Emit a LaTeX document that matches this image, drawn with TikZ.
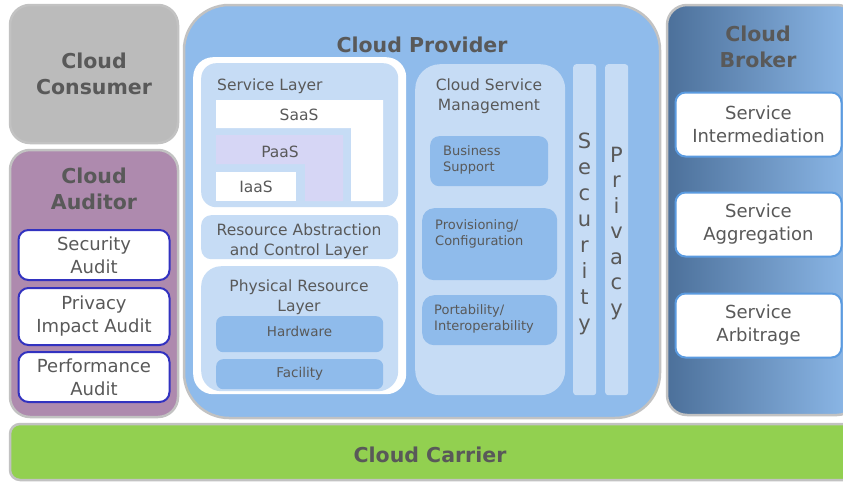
\documentclass[tikz,border=0pt]{standalone}
\usepackage{fontspec}
\setmainfont{DejaVu Sans}
\usetikzlibrary{positioning}
\definecolor{txtgray}{HTML}{595959}
\definecolor{edgegray}{HTML}{C2C2C2}
\definecolor{consumerfill}{HTML}{BBBBBB}
\definecolor{auditorfill}{HTML}{AE8AAE}
\definecolor{providerfill}{HTML}{8FBBEB}
\definecolor{layerfill}{HTML}{C6DCF5}
\definecolor{paasfill}{HTML}{D6D6F5}
\definecolor{carrierfill}{HTML}{92D050}
\definecolor{brokerdark}{HTML}{4C709A}
\definecolor{brokerlight}{HTML}{8EBAEA}
\definecolor{auditedge}{HTML}{3232C0}
\definecolor{brokeredge}{HTML}{5B9BE0}

\begin{document}
\begin{tikzpicture}[x=1pt, y=-1pt, text=txtgray,
    actor/.style = {draw=edgegray, line width=2.5pt, rounded corners=20pt, anchor=north west, inner sep=0pt, outer sep=0pt},
    roletitle/.style = {font=\bfseries\fontsize{20.5}{26}\selectfont, align=center, inner sep=0pt},
    layerbox/.style = {fill=layerfill, rounded corners=15pt, anchor=north west, inner sep=0pt},
    comp/.style = {fill=providerfill, rounded corners=7pt, anchor=north west, inner sep=0pt},
    task/.style = {fill=white, line width=2pt, rounded corners=10pt, inner sep=0pt, outer sep=0pt, align=center, font=\fontsize{18}{23}\selectfont},
    txt/.style = {font=\fontsize{15.5}{19.5}\selectfont, align=center, inner sep=0pt},
    smalltxt/.style = {font=\fontsize{13}{16.5}\selectfont, align=left, inner sep=0pt},
    vert/.style = {font=\fontsize{21}{26}\selectfont, align=center, inner sep=0pt},
    node distance=7pt]
\useasboundingbox (0,0) rectangle (843,482);

% consumer
\node[actor, fill=consumerfill, minimum width=168pt, minimum height=138pt, roletitle] (consumer) at (10,5) {Cloud\\Consumer};

% auditor
\node[actor, fill=auditorfill, minimum width=168pt, minimum height=267pt] (auditor) at (10,150) {};
\node[roletitle] (auditorname) at (94,189) {Cloud\\Auditor};
\node[task, draw=auditedge, minimum width=151pt, minimum height=50pt] (secaudit) at (94,255) {Security\\Audit};
\node[task, draw=auditedge, minimum width=151pt, minimum height=57pt, below=8pt of secaudit] (privaudit) {Privacy\\Impact Audit};
\node[task, draw=auditedge, minimum width=151pt, minimum height=50pt, below=7pt of privaudit] (perfaudit) {Performance\\Audit};

% provider
\node[actor, fill=providerfill, rounded corners=45pt, minimum width=476pt, minimum height=413pt] (provider) at (184,5) {};
\node[roletitle] (providername) at (422,45) {Cloud Provider};
\node[fill=white, rounded corners=20pt, anchor=north west, inner sep=0pt, minimum width=213pt, minimum height=337pt] (stack) at (193,57) {};

\node[layerbox, minimum width=197pt, minimum height=144pt] (servicelayer) at (201,63) {};
\node[txt, anchor=west] (servicename) at (217,86) {Service Layer};
\fill[white] (216,100) -| (383,201) -- (351,201) |- (216,128) -- cycle;
\fill[paasfill] (216,135) -| (343,201) -- (305,201) |- (216,164) -- cycle;
\fill[white] (216,172) rectangle (296,201);
\node[txt] (saas) at (299,115) {SaaS};
\node[txt] (paas) at (280,152) {PaaS};
\node[txt] (iaas) at (256,187) {IaaS};

\node[layerbox, rounded corners=10pt, minimum width=197pt, minimum height=44pt] (abstraction) at (201,215) {};
\node[txt] (abstractionname) at (299,241) {Resource Abstraction\\and Control Layer};

\node[layerbox, rounded corners=20pt, minimum width=197pt, minimum height=125pt] (physical) at (201,266) {};
\node[txt] (physicalname) at (299,297) {Physical Resource\\Layer};
\node[comp, minimum width=167pt, minimum height=36pt] (hardware) at (216,316) {};
\node[smalltxt, font=\fontsize{13.5}{16}\selectfont] (hardwaretxt) at (299.5,331) {Hardware};
\node[comp, minimum width=167pt, minimum height=30pt, font=\fontsize{13.5}{16}\selectfont] (facility) at (216,359) {Facility};

\node[layerbox, rounded corners=25pt, minimum width=150pt, minimum height=331pt] (management) at (415,64) {};
\node[txt] (managementname) at (489,96) {Cloud Service\\Management};
\node[comp, rounded corners=9pt, minimum width=118pt, minimum height=50pt] (business) at (430,136) {};
\node[smalltxt, anchor=west] (businesstxt) at (443,160) {Business\\Support};
\node[comp, rounded corners=12pt, minimum width=135pt, minimum height=72pt] (provisioning) at (422,208) {};
\node[smalltxt, anchor=west] (provisioningtxt) at (435,234) {Provisioning/\\Configuration};
\node[comp, rounded corners=12pt, minimum width=135pt, minimum height=50pt] (portability) at (422,295) {};
\node[smalltxt, anchor=west] (portabilitytxt) at (434,319) {Portability/\\Interoperability};

\node[layerbox, rounded corners=3pt, minimum width=23pt, minimum height=331pt] (security) at (573,64) {};
\node[vert] (securitytxt) at (584.5,233.5) {S\\e\\c\\u\\r\\i\\t\\y};
\node[layerbox, rounded corners=3pt, minimum width=23pt, minimum height=331pt] (privacy) at (605,64) {};
\node[vert, font=\fontsize{21}{25.5}\selectfont] (privacytxt) at (616.5,233.5) {P\\r\\i\\v\\a\\c\\y};

% broker
\node[actor, left color=brokerdark, right color=brokerlight, minimum width=190pt, minimum height=410pt] (broker) at (667,5) {};
\node[roletitle] (brokername) at (758,47) {Cloud\\Broker};
\node[task, draw=brokeredge, minimum width=166pt, minimum height=64pt] (intermediation) at (758.5,124.5) {Service\\Intermediation};
\node[task, draw=brokeredge, minimum width=166pt, minimum height=64pt, below=36pt of intermediation] (aggregation) {Service\\Aggregation};
\node[task, draw=brokeredge, minimum width=166pt, minimum height=64pt, below=37pt of aggregation] (arbitrage) {Service\\Arbitrage};

% carrier
\node[actor, rounded corners=10pt, fill=carrierfill, minimum width=850pt, minimum height=56pt] (carrier) at (10,424) {};
\node[roletitle] (carriername) at (430,455) {Cloud Carrier};
\end{tikzpicture}
\end{document}
